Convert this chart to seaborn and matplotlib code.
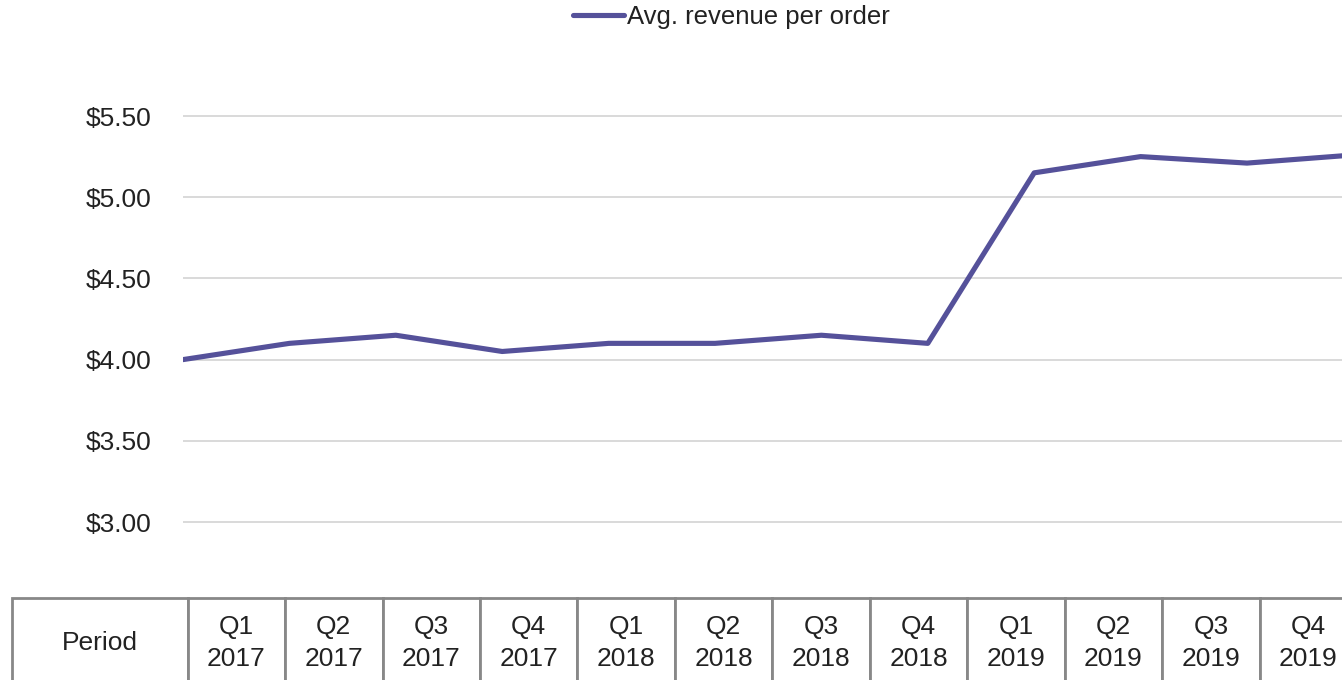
import pandas as pd
import matplotlib
matplotlib.use('Agg')
import matplotlib.pyplot as plt
import seaborn as sns

# Data
quarters = ['Q1', 'Q2', 'Q3', 'Q4', 'Q1', 'Q2', 'Q3', 'Q4', 'Q1', 'Q2', 'Q3', 'Q4']
years = ['2017'] * 4 + ['2018'] * 4 + ['2019'] * 4
revenue = [4.00, 4.10, 4.15, 4.05, 4.10, 4.10, 4.15, 4.10, 5.15, 5.25, 5.21, 5.26]
y_ticks = [3.0, 3.5, 4.0, 4.5, 5.0, 5.5]

df = pd.DataFrame({'idx': range(len(revenue)), 'Avg. revenue per order': revenue})

sns.set_style('white')
plt.rcParams['font.family'] = ['Liberation Sans', 'DejaVu Sans']

W, H = 1342, 680
fig = plt.figure(figsize=(W / 100, H / 100), dpi=100)

# main axes (pixel layout)
ax_top, ax_bot = 100, 570
ax = fig.add_axes([183 / W, (H - ax_bot) / H, (W - 183) / W, (ax_bot - ax_top) / H])
sns.lineplot(data=df, x='idx', y='Avg. revenue per order', ax=ax,
             color='#55519a', linewidth=3.7, label='Avg. revenue per order')

px_per_unit = 162.4
ax.set_ylim(3.0 - (ax_bot - 522) / px_per_unit, 5.5 + (116 - ax_top) / px_per_unit)
step = 106.4
ax.set_xlim(0, (W - 183) / step)
ax.set_yticks(y_ticks)
ax.set_yticklabels([f'${v:.2f}' for v in y_ticks], fontsize=19, color='#222222')
ax.set_xticks([])
ax.set_xlabel('')
ax.set_ylabel('')
ax.tick_params(axis='y', length=0, pad=23)
ax.grid(axis='y', color='#d9d9d9', linewidth=1.4)
for s in ax.spines.values():
    s.set_visible(False)

leg = ax.legend(loc='center', bbox_to_anchor=(731 / W, 1 - 17 / H), bbox_transform=fig.transFigure,
                frameon=False, fontsize=18.5, handlelength=2.0, handletextpad=0.1)
for t in leg.get_texts():
    t.set_color('#222222')

# table below the chart
tab_ax = fig.add_axes([12 / W, (H - 688) / H, (1357 - 12) / W, 90 / H])
tab_ax.axis('off')
cells = [['Period'] + [f'{q}\n{y}' for q, y in zip(quarters, years)]]
widths = [176] + [97.6] * len(quarters)
tot = sum(widths)
table = tab_ax.table(cellText=cells, colWidths=[w / tot for w in widths],
                     cellLoc='center', bbox=[0, 0, 1, 1])
table.auto_set_font_size(False)
for cell in table.get_celld().values():
    cell.set_edgecolor('#888888')
    cell.set_linewidth(2)
    cell.set_fontsize(19)
    cell.get_text().set_color('#222222')
    cell.get_text().set_linespacing(1.4)

fig.savefig('out.png', dpi=100)
